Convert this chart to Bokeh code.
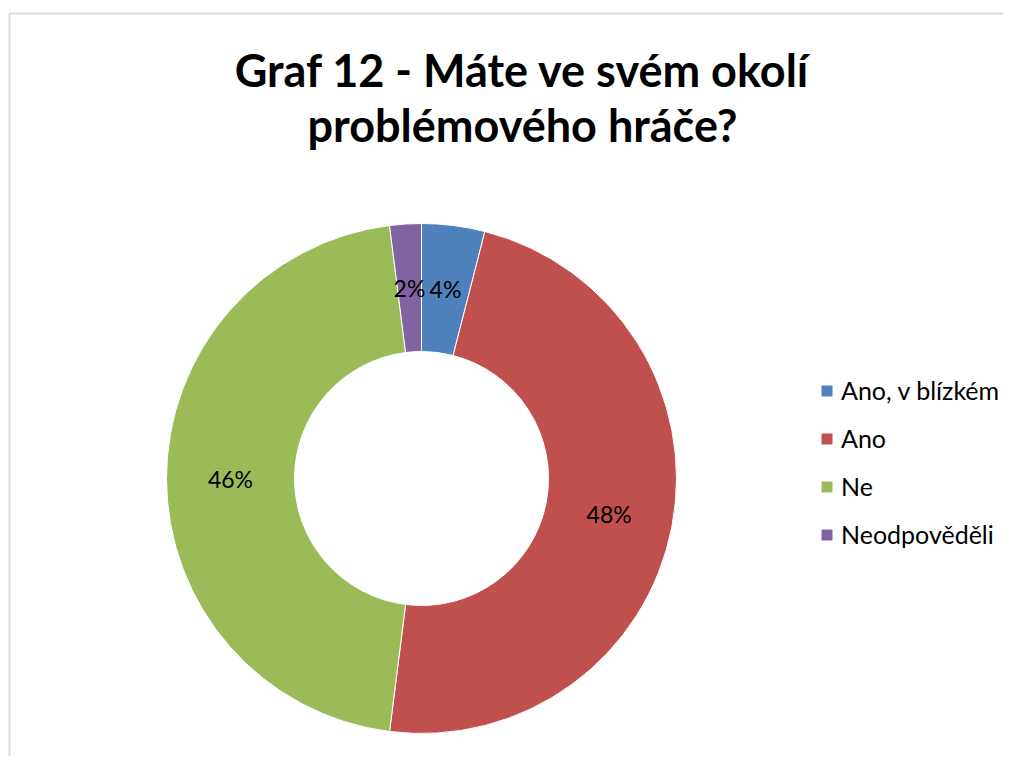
import math
from bokeh.plotting import figure
from bokeh.models import ColumnDataSource, Range1d, Label, Legend, LegendItem, BoxAnnotation
from bokeh.core.properties import value
from bokeh.embed import file_html
from bokeh.resources import INLINE

# ---- data ----
categories = ["Ano, v blízkém", "Ano", "Ne", "Neodpověděli"]
shares = [4, 48, 46, 2]
colors = ["#4F81BD", "#C0504D", "#9BBB59", "#8064A2"]
title_lines = ["Graf 12 - Máte ve svém okolí", "problémového hráče?"]

W, H = 1003, 756
cx, cy = 421, H - 478
r_out, r_in = 255, 127

total = sum(shares)
starts, ends, lx, ly, labels = [], [], [], [], []
acc = 0.0
for s in shares:
    a0 = math.pi / 2 - 2 * math.pi * acc / total
    a1 = math.pi / 2 - 2 * math.pi * (acc + s) / total
    starts.append(a0)
    ends.append(a1)
    mid = (a0 + a1) / 2
    rm = (r_out + r_in) / 2
    lx.append(cx + rm * math.cos(mid))
    ly.append(cy + rm * math.sin(mid))
    labels.append(f"{round(100 * s / total)}%")
    acc += s

src = ColumnDataSource(dict(cat=categories, start=starts, end=ends, color=colors,
                            lx=lx, ly=ly, lab=labels,
                            x=[cx] * len(shares), y=[cy] * len(shares)))

p = figure(width=W, height=H, output_backend="svg", toolbar_location=None,
           x_range=Range1d(0, W), y_range=Range1d(0, H), min_border=0)
p.axis.visible = False
p.grid.visible = False
p.outline_line_color = None
p.background_fill_color = "white"
p.border_fill_color = "white"

# chart-area frame
p.add_layout(BoxAnnotation(left=9, right=W + 20, top=H - 13, bottom=-20,
                           fill_alpha=0, line_color="#8c8c8c", line_width=2))

wedges = p.annular_wedge(x="x", y="y", inner_radius=r_in, outer_radius=r_out,
                         start_angle="start", end_angle="end", direction="clock",
                         fill_color="color", line_color="white", line_width=1,
                         source=src)

p.text(x="lx", y="ly", text="lab", source=src, text_align="center",
       text_baseline="middle", text_font=value("Lato"), text_font_size="23px",
       text_color="black")

# title
p.add_layout(Label(x=522, y=H - 69, x_units="screen", y_units="screen",
                   text=title_lines[0], text_align="center", text_baseline="alphabetic",
                   text_font="Lato", text_font_style="bold", text_font_size="45px",
                   text_color="black"))
p.add_layout(Label(x=522, y=H - 124, x_units="screen", y_units="screen",
                   text=title_lines[1], text_align="center", text_baseline="alphabetic",
                   text_font="Lato", text_font_style="bold", text_font_size="45px",
                   text_color="black"))

items = [LegendItem(label=c, renderers=[wedges], index=i) for i, c in enumerate(categories)]
legend = Legend(items=items, location=(819, 207), orientation="vertical",
                glyph_width=15, glyph_height=15, label_height=30, spacing=18,
                label_standoff=7, padding=0, margin=0,
                label_text_font="Lato", label_text_font_size="25px",
                label_text_color="black", border_line_color=None,
                background_fill_alpha=0)
p.add_layout(legend, "center")

open("out.html", "w").write(file_html(p, INLINE))
